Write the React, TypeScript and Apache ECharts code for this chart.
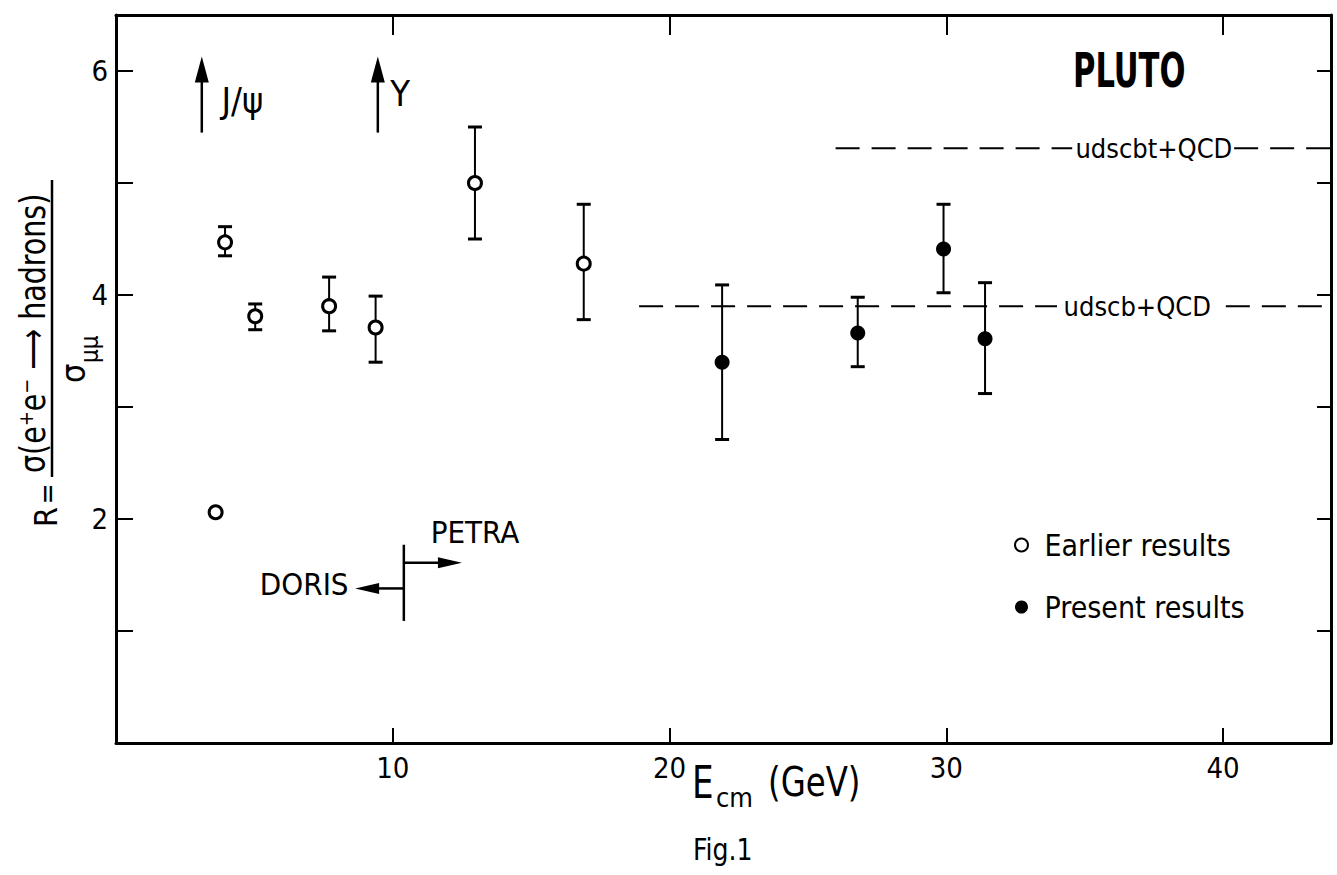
import React, { useEffect, useRef } from "react";
import * as echarts from "echarts";

const FONT = "'DejaVu Sans Condensed', 'DejaVu Sans', sans-serif";

// Earlier results (open circles)
const earlierE = [3.6, 3.94, 5.03, 7.7, 9.38, 12.97, 16.9];
const earlierR = [2.06, 4.47, 3.81, 3.9, 3.71, 5.0, 4.28];
const earlierLow = [null, 4.35, 3.69, 3.68, 3.4, 4.5, 3.78];
const earlierHigh = [null, 4.61, 3.92, 4.16, 3.99, 5.5, 4.81];

// Present results (filled circles)
const presentE = [21.9, 26.8, 29.9, 31.4];
const presentR = [3.4, 3.66, 4.41, 3.61];
const presentLow = [2.71, 3.36, 4.02, 3.12];
const presentHigh = [4.09, 3.98, 4.81, 4.11];

// Theory lines
const udscbtR = 5.31;
const udscbtSegments = [[26.0, 34.55], [40.4, 43.9]];
const udscbtLabelE = 37.5;
const udscbR = 3.9;
const udscbSegments = [[18.9, 34.0], [40.1, 43.9]];
const udscbLabelE = 36.9;

// Resonance arrows
const resonanceE = [3.1, 9.46];
const resonanceNames = ["J/ψ", "Υ"];
const resonanceLabelE = [4.57, 10.27];
const resonanceLabelR = [5.74, 5.8];
const arrowBottomR = 5.45;
const arrowTopR = 6.13;

// DORIS / PETRA boundary
const boundaryE = 10.4;
const boundaryR = [1.09, 1.77];
const petraArrow = [1.61, 12.5];
const dorisArrow = [1.38, 8.64];
const machineNames = ["DORIS", "PETRA"];
const machineLabelE = [6.8, 12.97];
const machineLabelR = [1.42, 1.88];

const xTickLabels = [10, 20, 30, 40];
const yTickLabels = [2, 4, 6];

const X_MAX = 43.9;
const Y_MAX = 6.5;

function buildOption(): any {
  const errData: number[][] = [];
  earlierE.forEach((e, i) => {
    if (earlierLow[i] != null) errData.push([e, earlierLow[i] as number, earlierHigh[i] as number]);
  });
  presentE.forEach((e, i) => errData.push([e, presentLow[i], presentHigh[i]]));

  const seg = (r: number, segs: number[][]) => {
    const d: any[] = [];
    segs.forEach((s, i) => {
      if (i > 0) d.push(["-", "-"]);
      d.push([s[0], r]);
      d.push([s[1], r]);
    });
    return d;
  };

  const black = "#000";
  const textSeries = (name: string, data: any[], fontSize: number, extra: any = {}) => ({
    type: "scatter",
    name,
    symbolSize: 0,
    silent: true,
    z: 5,
    itemStyle: { opacity: 1, color: black },
    label: {
      show: true,
      position: "inside",
      formatter: "{b}",
      color: black,
      opacity: 1,
      textBorderWidth: 0,
      fontFamily: FONT,
      fontSize,
      ...extra,
    },
    data,
  });

  const frameAxis = (tickLen: number, extra: any) => ({
    type: "value",
    axisLine: { show: true, onZero: false, lineStyle: { color: black, width: 3 } },
    axisTick: { show: true, inside: true, length: tickLen, lineStyle: { color: black, width: 2 } },
    splitLine: { show: false },
    ...extra,
  });

  return {
    animation: false,
    backgroundColor: "#fff",
    grid: { left: 116, right: 6, top: 15, bottom: 132, containLabel: false },
    legend: {
      orient: "vertical",
      left: 1009,
      top: 524,
      itemWidth: 36,
      itemHeight: 13,
      itemGap: 30,
      data: ["Earlier results", "Present results"],
      textStyle: { fontFamily: FONT, fontSize: 30, color: black, lineHeight: 32 },
    },
    xAxis: [
      frameAxis(15, {
        min: 0,
        max: X_MAX,
        interval: 10,
        position: "bottom",
        axisLabel: {
          show: true,
          margin: 10,
          color: black,
          fontFamily: FONT,
          fontSize: 29,
          formatter: (v: number) => (xTickLabels.indexOf(v) >= 0 ? String(v) : ""),
        },
      }),
      frameAxis(20, { min: 0, max: X_MAX, interval: 10, position: "top", axisLabel: { show: false } }),
    ],
    yAxis: [
      frameAxis(17, {
        min: 0,
        max: Y_MAX,
        interval: 1,
        position: "left",
        axisLabel: {
          show: true,
          margin: 8,
          color: black,
          fontFamily: FONT,
          fontSize: 29,
          formatter: (v: number) => (yTickLabels.indexOf(v) >= 0 ? String(v) : ""),
        },
      }),
      frameAxis(14, { min: 0, max: Y_MAX, interval: 1, position: "right", axisLabel: { show: false } }),
    ],
    series: [
      {
        type: "line",
        name: "udscbt+QCD",
        data: seg(udscbtR, udscbtSegments),
        symbol: "none",
        connectNulls: false,
        lineStyle: { color: black, width: 2, type: [24, 12] },
        z: 1,
      },
      {
        type: "line",
        name: "udscb+QCD",
        data: seg(udscbR, udscbSegments),
        symbol: "none",
        connectNulls: false,
        lineStyle: { color: black, width: 2, type: [24, 12] },
        z: 1,
      },
      textSeries(
        "lineLabels",
        [
          { name: "udscbt+QCD", value: [udscbtLabelE, udscbtR] },
          { name: "udscb+QCD", value: [udscbLabelE, udscbR] },
        ],
        27
      ),
      {
        type: "custom",
        name: "errors",
        silent: true,
        z: 2,
        renderItem: (params: any, api: any) => {
          const x = api.value(0);
          const p1 = api.coord([x, api.value(1)]);
          const p2 = api.coord([x, api.value(2)]);
          const hw = 7;
          return {
            type: "group",
            children: [
              { type: "line", shape: { x1: p1[0], y1: p1[1], x2: p2[0], y2: p2[1] }, style: { stroke: black, lineWidth: 2 } },
              { type: "line", shape: { x1: p1[0] - hw, y1: p1[1], x2: p1[0] + hw, y2: p1[1] }, style: { stroke: black, lineWidth: 3 } },
              { type: "line", shape: { x1: p2[0] - hw, y1: p2[1], x2: p2[0] + hw, y2: p2[1] }, style: { stroke: black, lineWidth: 3 } },
            ],
          };
        },
        data: errData,
      },
      {
        type: "scatter",
        name: "Earlier results",
        symbol: "circle",
        symbolSize: 13,
        z: 3,
        itemStyle: { color: "#fff", borderColor: black, borderWidth: 3, opacity: 1 },
        data: earlierE.map((e, i) => [e, earlierR[i]]),
      },
      {
        type: "scatter",
        name: "Present results",
        symbol: "circle",
        symbolSize: 15,
        z: 3,
        itemStyle: { color: black, opacity: 1 },
        data: presentE.map((e, i) => [e, presentR[i]]),
      },
      {
        type: "custom",
        name: "resonances",
        silent: true,
        z: 2,
        renderItem: (params: any, api: any) => {
          const x = api.value(0);
          const pb = api.coord([x, api.value(1)]);
          const pt = api.coord([x, api.value(2)]);
          const hw = 7;
          const hl = 26;
          return {
            type: "group",
            children: [
              { type: "line", shape: { x1: pb[0], y1: pb[1], x2: pt[0], y2: pt[1] + hl - 2 }, style: { stroke: black, lineWidth: 2.5 } },
              {
                type: "polygon",
                shape: { points: [[pt[0], pt[1]], [pt[0] - hw, pt[1] + hl], [pt[0] + hw, pt[1] + hl]] },
                style: { fill: black },
              },
            ],
          };
        },
        data: resonanceE.map((e) => [e, arrowBottomR, arrowTopR]),
      },
      textSeries(
        "resonanceLabels",
        resonanceNames.map((n, i) => ({ name: n, value: [resonanceLabelE[i], resonanceLabelR[i]] })),
        36
      ),
      {
        type: "custom",
        name: "boundary",
        silent: true,
        z: 2,
        renderItem: (params: any, api: any) => {
          const x = api.value(0);
          const pb = api.coord([x, api.value(1)]);
          const pt = api.coord([x, api.value(2)]);
          const pr = api.coord([api.value(4), api.value(3)]);
          const pr0 = api.coord([x, api.value(3)]);
          const pl = api.coord([api.value(6), api.value(5)]);
          const pl0 = api.coord([x, api.value(5)]);
          const hl = 24;
          const hw = 5.5;
          return {
            type: "group",
            children: [
              { type: "line", shape: { x1: pb[0], y1: pb[1], x2: pt[0], y2: pt[1] }, style: { stroke: black, lineWidth: 2.5 } },
              { type: "line", shape: { x1: pr0[0], y1: pr0[1], x2: pr[0] - hl + 2, y2: pr[1] }, style: { stroke: black, lineWidth: 2.5 } },
              { type: "polygon", shape: { points: [[pr[0], pr[1]], [pr[0] - hl, pr[1] - hw], [pr[0] - hl, pr[1] + hw]] }, style: { fill: black } },
              { type: "line", shape: { x1: pl0[0], y1: pl0[1], x2: pl[0] + hl - 2, y2: pl[1] }, style: { stroke: black, lineWidth: 2.5 } },
              { type: "polygon", shape: { points: [[pl[0], pl[1]], [pl[0] + hl, pl[1] - hw], [pl[0] + hl, pl[1] + hw]] }, style: { fill: black } },
            ],
          };
        },
        data: [[boundaryE, boundaryR[0], boundaryR[1], petraArrow[0], petraArrow[1], dorisArrow[0], dorisArrow[1]]],
      },
      textSeries(
        "machineLabels",
        machineNames.map((n, i) => ({ name: n, value: [machineLabelE[i], machineLabelR[i]] })),
        31
      ),
    ],
    graphic: [
      {
        type: "text",
        x: 1073,
        y: 47,
        scaleY: 1.4,
        style: { text: "PLUTO", font: `bold 34px ${FONT}`, fill: black, textAlign: "left", textVerticalAlign: "top" },
      },
      { type: "text", x: 692, y: 761, scaleY: 1.15, style: { text: "E", font: `38px ${FONT}`, fill: black, textVerticalAlign: "top" } },
      { type: "text", x: 716, y: 784, style: { text: "cm", font: `27px ${FONT}`, fill: black, textVerticalAlign: "top" } },
      { type: "text", x: 768, y: 761, scaleY: 1.15, style: { text: "(GeV)", font: `36px ${FONT}`, fill: black, textVerticalAlign: "top" } },
      { type: "text", x: 693, y: 834, scaleY: 1.1, style: { text: "Fig.1", font: `28px ${FONT}`, fill: black, textVerticalAlign: "top" } },
      {
        type: "group",
        x: 0,
        y: 530,
        rotation: Math.PI / 2,
        children: [
          { type: "text", x: 3, y: 46, style: { text: "R", font: `32px ${FONT}`, fill: black, textAlign: "left", textVerticalAlign: "middle" } },
          { type: "text", x: 36, y: 47, style: { text: "=", font: `28px ${FONT}`, fill: black, textAlign: "center", textVerticalAlign: "middle" } },
          { type: "line", shape: { x1: 53, y1: 52, x2: 350, y2: 52 }, style: { stroke: black, lineWidth: 2.5 } },
          {
            type: "text",
            x: 57,
            y: 33,
            scaleX: 0.88,
            style: { text: "σ(e⁺e⁻ ⟶ hadrons)", font: `36px ${FONT}`, fill: black, textAlign: "left", textVerticalAlign: "middle" },
          },
          { type: "text", x: 147, y: 73, style: { text: "σ", font: `34px ${FONT}`, fill: black, textAlign: "left", textVerticalAlign: "middle" } },
          { type: "text", x: 167, y: 90, style: { text: "μμ", font: `24px ${FONT}`, fill: black, textAlign: "left", textVerticalAlign: "middle" } },
        ],
      },
    ],
  };
}

export default function App() {
  const ref = useRef<HTMLDivElement>(null);
  useEffect(() => {
    document.body.style.margin = "0";
    if (!ref.current) return;
    const chart = echarts.init(ref.current, undefined, { renderer: "svg" });
    chart.setOption(buildOption());
    return () => chart.dispose();
  }, []);
  return <div ref={ref} style={{ width: 1337, height: 875, position: "absolute", left: 0, top: 0 }} />;
}
